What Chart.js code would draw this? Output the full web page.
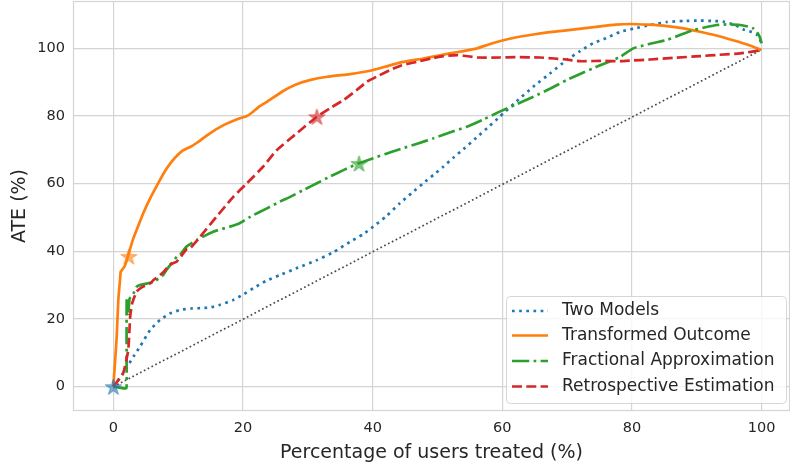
<!DOCTYPE html>
<html>
<head>
<meta charset="utf-8">
<title>ATE vs. percentage of users treated</title>
<script src="https://cdn.jsdelivr.net/npm/chart.js@4"></script>
<style>
  html, body { margin: 0; padding: 0; background: #ffffff; }
  #chart { display: block; }
</style>
</head>
<body>
<canvas id="chart" width="790" height="464"></canvas>
<script>
// Series names (legend order)
const seriesNames = ['Two Models', 'Transformed Outcome', 'Fractional Approximation', 'Retrospective Estimation'];

// Uplift curves: [percentage of users treated, ATE %]
const twoModels = [
  [0, 0], [1.5, 3.9], [3.1, 8.9], [4.1, 11.8], [5.7, 16.8], [7.2, 19.7], [8.7, 21.6], [10.3, 22.7],
  [12, 23.1], [13.4, 23.2], [14.9, 23.4], [16.5, 24.2], [18.5, 25.6], [20, 27.2], [21.6, 29.1],
  [23.5, 31.2], [25.7, 33.0], [28.5, 35.2], [31.4, 37.4], [34, 39.8], [36.5, 42.8], [38.5, 45.0],
  [40.1, 47.3], [42, 50.2], [44.2, 54.2], [46, 57.2], [47.8, 60.1], [49.5, 62.8], [50.9, 65],
  [52.4, 67.6], [54, 70.2], [56, 73.6], [58, 77], [59.6, 79.8], [62, 84], [64.8, 88.7], [67.5, 92.8],
  [69.9, 96.5], [72, 99.2], [74, 101.5], [76, 103], [78.2, 104.9], [80.2, 105.8], [82.8, 106.9],
  [85.4, 107.8], [88, 108.1], [90.5, 108.2], [92.5, 108.1], [94.1, 107.9], [95.8, 107], [97.2, 105.6],
  [98.5, 104.8], [99.2, 104.2], [99.7, 103], [100, 101]
];
const transformedOutcome = [
  [0, 0], [0.5, 14], [0.77, 25.6], [1.03, 31.5], [1.14, 34], [1.4, 34.6], [1.8, 35.8], [2.3, 38.9],
  [3.1, 43.9], [3.9, 47.8], [4.6, 51.2], [5.7, 55.7], [7.2, 61.1], [8, 63.8], [9.0, 66.5], [10, 68.6],
  [10.8, 69.9], [12, 71], [12.9, 72.1], [14.9, 74.9], [17, 77.3], [19, 79], [20.6, 80], [21.5, 81.2],
  [22.5, 82.8], [23.7, 84.2], [26.2, 87.4], [28, 89.2], [30.3, 90.6], [33, 91.6], [36.5, 92.4],
  [38.5, 93], [40.1, 93.6], [42, 94.6], [44.2, 95.8], [47.8, 97], [50, 97.8], [51.9, 98.5], [54, 99.2],
  [56.1, 100], [58, 101.2], [59.6, 102.1], [62, 103.2], [64.8, 104.1], [67, 104.7], [69.9, 105.3],
  [72.5, 105.9], [75.1, 106.5], [77.5, 107], [79.7, 107.2], [82.5, 107], [85.4, 106.6], [88, 105.9],
  [90.5, 104.9], [93, 103.8], [95.6, 102.4], [98, 101], [100, 99.5]
];
const fractionalApproximation = [
  [0, 0], [1, -0.3], [2.0, -0.5], [2.05, 5], [2.06, 25.5], [2.3, 21.5], [2.5, 26], [2.8, 26.6],
  [3.1, 27.5], [3.6, 29.5], [4.1, 30], [5.7, 30.7], [6.2, 31], [7.2, 32.2], [7.7, 33], [8.2, 34.5],
  [9.8, 38.4], [10.3, 39], [11.3, 41.4], [12.9, 43.4], [15.4, 45.8], [18, 47.3], [19.5, 48.3],
  [21.1, 50.2], [21.6, 50.7], [23.7, 52.7], [25.7, 54.7], [27.3, 56.1], [29.5, 58.3], [31.4, 60.1],
  [33.5, 62.2], [35.5, 64], [37.8, 66], [40.1, 67.5], [42, 68.8], [44.2, 70.2], [47, 71.9], [49.4, 73.4],
  [52, 75.2], [54.5, 76.8], [57, 78.9], [59.6, 81.3], [62, 83.3], [64.8, 85.7], [67.5, 88.2], [69.9, 90.6],
  [72, 92.4], [74, 94.1], [76, 95.7], [78.2, 97.5], [80.2, 100], [82.5, 101.2], [85.4, 102.5],
  [87.5, 104], [89.5, 105.4], [91.5, 106.3], [93.1, 106.9], [95, 107.1], [96.7, 106.9], [98, 106.4],
  [98.7, 105.9], [99.3, 104.8], [99.7, 103.4], [100, 101.5]
];
const retrospectiveEstimation = [
  [0, 0], [1.5, 3.9], [2.3, 10.8], [2.6, 20.7], [2.9, 24.6], [3.6, 28.1], [4.5, 29.5], [5.7, 30.5],
  [6.2, 31.5], [7.7, 33.8], [8.7, 36], [9.8, 37], [11.3, 40.6], [11.8, 40.8], [13.4, 44.3], [15.9, 50.2],
  [18.5, 56.1], [20.6, 60.1], [23.1, 65], [25.2, 69.9], [28.3, 74.9], [31.4, 79.8], [33.5, 82.4],
  [35.5, 84.7], [37.5, 87.6], [39.1, 90.1], [41, 92], [42.7, 93.6], [44.5, 95], [46.8, 96], [49, 97],
  [50.9, 97.7], [53, 98], [55, 97.6], [56.1, 97.3], [59.6, 97.3], [62, 97.4], [65.8, 97.3], [68, 97],
  [69.9, 96.7], [72, 96.2], [75.1, 96.3], [78.2, 96.2], [80, 96.4], [82.8, 96.7], [86.5, 97.2],
  [90.5, 97.7], [93.5, 98.1], [96.7, 98.5], [100, 99.5]
];
// Random-targeting baseline
const randomBaseline = [[0, 0], [100, 99.6]];

// Highlighted operating points (one per method)
const starX = [0, 2.4, 37.9, 31.4];
const starY = [0, 38.5, 66, 79.8];

// Axis ticks
const xTicks = [0, 20, 40, 60, 80, 100];
const yTicks = [0, 20, 40, 60, 80, 100];

const colors = ['#1f77b4', '#ff7f0e', '#2ca02c', '#d62728'];
const LW = 2.7;
const dashes = [[LW, 1.65 * LW], [], [6.4 * LW, 1.6 * LW, LW, 1.6 * LW], [3.7 * LW, 1.6 * LW]];
const TEXT = '#262626';
const GRID = '#d4d4d4';
const FONT = "'DejaVu Sans', 'Liberation Sans', sans-serif";

const toXY = arr => arr.map(p => ({ x: p[0], y: p[1] }));

// Five-pointed star marker drawn on an offscreen canvas
function makeStar(color, r) {
  const c = document.createElement('canvas');
  const s = Math.ceil(r * 2 + 4);
  c.width = s; c.height = s;
  const g = c.getContext('2d');
  const cx = s / 2, cy = s / 2 + r * 0.1;
  g.beginPath();
  for (let i = 0; i < 10; i++) {
    const rad = i % 2 === 0 ? r : r * 0.382;
    const a = -Math.PI / 2 + i * Math.PI / 5;
    const px = cx + rad * Math.cos(a), py = cy + rad * Math.sin(a);
    if (i === 0) g.moveTo(px, py); else g.lineTo(px, py);
  }
  g.closePath();
  g.globalAlpha = 0.6;
  g.fillStyle = color;
  g.fill();
  g.lineWidth = 1;
  g.strokeStyle = color;
  g.stroke();
  return c;
}
const starImages = colors.map(c => makeStar(c, 8.5));

const curves = [twoModels, transformedOutcome, fractionalApproximation, retrospectiveEstimation];
const drawOrder = [4, 3, 2, 1];

const datasets = curves.map((arr, i) => ({
  label: seriesNames[i],
  data: toXY(arr),
  borderColor: colors[i],
  backgroundColor: colors[i],
  borderWidth: LW,
  borderDash: dashes[i],
  borderCapStyle: 'butt',
  borderJoinStyle: 'round',
  pointRadius: 0,
  tension: 0.15,
  fill: false,
  order: drawOrder[i]
}));

datasets.push({
  label: 'Random',
  data: toXY(randomBaseline),
  borderColor: '#4a4a4a',
  borderWidth: 1.7,
  borderDash: [1.7, 2.6],
  pointRadius: 0,
  tension: 0,
  fill: false,
  order: 5
});

datasets.push({
  label: 'Operating points',
  data: starX.map((x, i) => ({ x, y: starY[i] })),
  showLine: false,
  pointStyle: starImages,
  pointRadius: 9,
  order: 0
});

// Axes keep a fixed size and reserve no extra edge padding
function fixAxis(size, horizontal) {
  return s => {
    if (horizontal) s.height = size; else s.width = size;
    s.paddingTop = 0; s.paddingBottom = 0; s.paddingLeft = 0; s.paddingRight = 0;
  };
}

// Frame, axis titles and in-plot legend
const decorations = {
  id: 'decorations',
  beforeDatasetsDraw(chart) {
    const { ctx, chartArea: a } = chart;
    ctx.save();
    ctx.strokeStyle = GRID;
    ctx.lineWidth = 1.2;
    ctx.strokeRect(a.left + 0.5, a.top + 0.5, a.right - a.left - 1, a.bottom - a.top - 1);
    ctx.restore();
  },
  afterDraw(chart) {
    const { ctx, chartArea: a } = chart;
    ctx.save();
    ctx.fillStyle = TEXT;
    ctx.font = `19px ${FONT}`;
    ctx.textAlign = 'center';
    ctx.textBaseline = 'alphabetic';
    ctx.fillText('Percentage of users treated (%)', (a.left + a.right) / 2, 458);
    ctx.translate(25, (a.top + a.bottom) / 2);
    ctx.rotate(-Math.PI / 2);
    ctx.fillText('ATE (%)', 0, 0);
    ctx.restore();

    // legend box
    const bx = 506.5, by = 296.5, bw = 280, bh = 107, r = 4;
    ctx.save();
    ctx.beginPath();
    ctx.moveTo(bx + r, by);
    ctx.arcTo(bx + bw, by, bx + bw, by + bh, r);
    ctx.arcTo(bx + bw, by + bh, bx, by + bh, r);
    ctx.arcTo(bx, by + bh, bx, by, r);
    ctx.arcTo(bx, by, bx + bw, by, r);
    ctx.closePath();
    ctx.fillStyle = 'rgba(255,255,255,0.8)';
    ctx.fill();
    ctx.strokeStyle = 'rgba(204,204,204,0.8)';
    ctx.lineWidth = 1;
    ctx.stroke();

    const rows = [311, 335.5, 361, 386.5];
    seriesNames.forEach((name, i) => {
      const y = rows[i];
      ctx.beginPath();
      ctx.setLineDash(dashes[i]);
      ctx.lineCap = 'butt';
      ctx.strokeStyle = colors[i];
      ctx.lineWidth = LW;
      ctx.moveTo(512, y);
      ctx.lineTo(548, y);
      ctx.stroke();
      ctx.setLineDash([]);
      ctx.fillStyle = TEXT;
      ctx.font = `17px ${FONT}`;
      ctx.textAlign = 'left';
      ctx.textBaseline = 'middle';
      ctx.fillText(name, 562, y);
    });
    ctx.restore();
  }
};

new Chart(document.getElementById('chart'), {
  type: 'line',
  data: { datasets },
  options: {
    responsive: false,
    animation: false,
    devicePixelRatio: 1,
    layout: { autoPadding: false, padding: { top: 1, right: 0, bottom: 0, left: 0 } },
    plugins: { legend: { display: false }, tooltip: { enabled: false } },
    scales: {
      x: {
        type: 'linear',
        min: -6.22,
        max: 104.38,
        afterBuildTicks: s => { s.ticks = xTicks.map(v => ({ value: v })); },
        afterFit: fixAxis(53, true),
        ticks: { color: TEXT, font: { family: FONT, size: 14.5 }, padding: 9, maxRotation: 0 },
        grid: { color: GRID, lineWidth: 1.2, drawTicks: false },
        border: { display: false }
      },
      y: {
        type: 'linear',
        min: -7.2,
        max: 114.0,
        afterBuildTicks: s => { s.ticks = yTicks.map(v => ({ value: v })); },
        afterFit: fixAxis(73, false),
        ticks: { color: TEXT, font: { family: FONT, size: 14.5 }, padding: 8 },
        grid: { color: GRID, lineWidth: 1.2, drawTicks: false },
        border: { display: false }
      }
    }
  },
  plugins: [decorations]
});
</script>
</body>
</html>
